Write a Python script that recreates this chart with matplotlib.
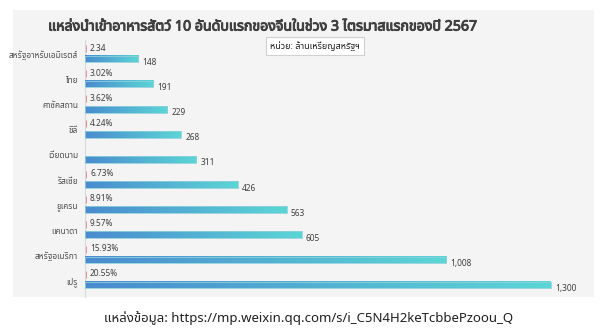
import numpy as np
import matplotlib
matplotlib.use("Agg")
import matplotlib.pyplot as plt
import matplotlib.patheffects as pe
from matplotlib.colors import LinearSegmentedColormap
from matplotlib.patches import Rectangle

plt.rcParams['font.family'] = ['Noto Sans Thai', 'DejaVu Sans']

# data
countries = ['สหรัฐอาหรับเอมิเรตส์', 'ไทย', 'คาซัคสถาน', 'ชิลี', 'เวียดนาม',
             'รัสเซีย', 'ยูเครน', 'แคนาดา', 'สหรัฐอเมริกา', 'เปรู']
values = [148, 191, 229, 268, 311, 426, 563, 605, 1008, 1300]
shares = [2.34, 3.02, 3.62, 4.24, None, 6.73, 8.91, 9.57, 15.93, 20.55]
share_labels = ['2.34', '3.02%', '3.62%', '4.24%', '', '6.73%', '8.91%',
                '9.57%', '15.93%', '20.55%']
value_labels = ['148', '191', '229', '268', '311', '426', '563', '605',
                '1,008', '1,300']

fig = plt.figure(figsize=(6.03, 3.31), dpi=100)
fig.patch.set_facecolor('white')

# grey panel behind the chart
bg = fig.add_axes([13 / 603, 1 - 297 / 331, 581 / 603, 287 / 331])
bg.set_facecolor('#f4f4f4')
bg.set_xticks([])
bg.set_yticks([])
for s in bg.spines.values():
    s.set_visible(False)
bg.set_zorder(0)

ax = fig.add_axes([85 / 603, 1 - 297 / 331, 505 / 603, 257 / 331])
ax.set_facecolor('none')
ax.set_zorder(1)

cmap = LinearSegmentedColormap.from_list('bar', ['#4a8bcf', '#5bd6d6'])
grad = np.linspace(0, 1, 256).reshape(1, -1)
h = 0.13
y = np.arange(len(countries))

for i, v in enumerate(values):
    ax.imshow(grad, cmap=cmap, aspect='auto', extent=[0, v, i + h, i - h],
              zorder=2)
    ax.add_patch(Rectangle((0, i - h), v, 2 * h, facecolor='none',
                           edgecolor='#8fd0dc', linewidth=0.6, zorder=3))
    ax.text(v + 12, i + 0.14, value_labels[i], fontsize=6, color='#404040',
            va='center', ha='left')
    if shares[i] is not None:
        # tiny share bar (fraction of total)
        ax.barh(i - 0.42, shares[i] / 100, height=0.28, left=3,
                color='#e8909a', edgecolor='#e8909a', linewidth=0.7, zorder=4)
        ax.text(14, i - 0.44, share_labels[i], fontsize=6, color='#404040',
                va='center', ha='left')

ax.set_xlim(0, 1410)
ax.set_ylim(9.48, -0.76)
ax.set_yticks(y - 0.18)
ax.set_yticklabels(countries, fontsize=6, color='#505050')
ax.set_xticks([])
ax.tick_params(axis='y', length=0, pad=5)
for s in ['top', 'right', 'bottom']:
    ax.spines[s].set_visible(False)
ax.spines['left'].set_color('#d9d9d9')
ax.spines['left'].set_linewidth(0.8)
ax.spines['left'].set_zorder(1)

fig.text(262 / 603, 1 - 27 / 331,
         'แหล่งนำเข้าอาหารสัตว์ 10 อันดับแรกของจีนในช่วง 3 ไตรมาสแรกของปี 2567',
         ha='center', va='center', fontsize=10.2, color='#404040', zorder=3,
         path_effects=[pe.withStroke(linewidth=0.7, foreground='#404040')])
fig.text(315 / 603, 1 - 46 / 331, 'หน่วย: ล้านเหรียญสหรัฐฯ', ha='center',
         va='center', fontsize=6.5, color='#202020', zorder=3,
         bbox=dict(boxstyle='square,pad=0.5', facecolor='white',
                   edgecolor='#d0d0d0', linewidth=0.8))
fig.text(309 / 603, 1 - 318 / 331,
         'แหล่งข้อมูล: https://mp.weixin.qq.com/s/i_C5N4H2keTcbbePzoou_Q',
         ha='center', va='center', fontsize=9.5, color='#202020')

fig.savefig('out.png', dpi=100)
